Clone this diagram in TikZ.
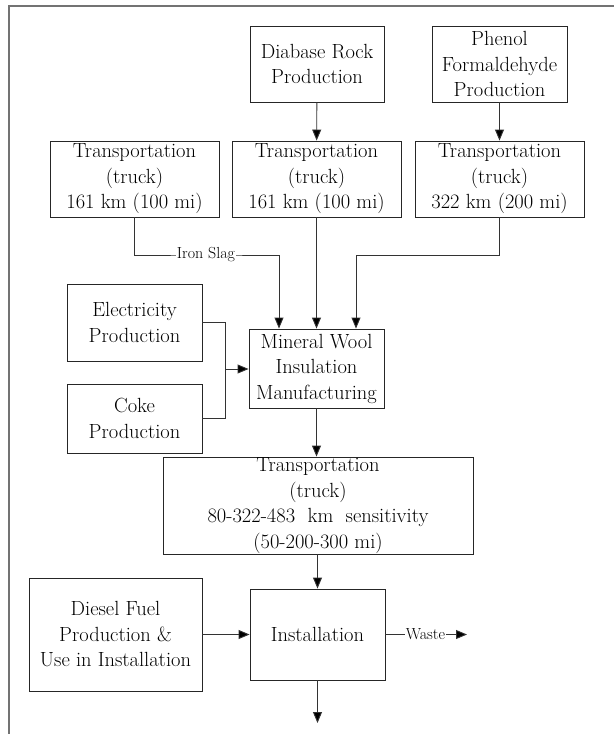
\documentclass[tikz,border=0pt]{standalone}
\usepackage{fontspec}
\usetikzlibrary{arrows.meta}
\begin{document}
\begin{tikzpicture}[x=1pt,y=-1pt,
  proc/.style={draw=black!85,line width=0.9pt,align=center,inner sep=0pt,
    font=\rmfamily\fontsize{20.5}{25.5}\selectfont},
  link/.style={draw=black!80,line width=0.9pt},
  arr/.style={link,-{Triangle[width=9pt,length=11pt,fill=black]}},
  tag/.style={fill=white,inner sep=1pt,font=\rmfamily\fontsize{16}{18}\selectfont}]
  \useasboundingbox (0,0) rectangle (614,734);
  % outer frame (top and left edges)
  \draw[black!55,line width=1.4pt] (9,734) -- (9,6) -- (614,6);

  % upstream production
  \node[proc,minimum width=134pt,minimum height=76pt] (rock) at (317,64) {Diabase Rock\\Production};
  \node[proc,minimum width=135pt,minimum height=76pt] (phenol) at (499.5,64) {Phenol\\Formaldehyde\\Production};

  % transport legs
  \node[proc,minimum width=169pt,minimum height=76pt] (t1) at (134.5,179) {Transportation\\(truck)\\161 km (100 mi)};
  \node[proc,minimum width=169pt,minimum height=76pt] (t2) at (316.5,179) {Transportation\\(truck)\\161 km (100 mi)};
  \node[proc,minimum width=169pt,minimum height=76pt] (t3) at (499.5,179) {Transportation\\(truck)\\322 km (200 mi)};

  % energy inputs
  \node[proc,minimum width=135pt,minimum height=77pt] (elec) at (134.5,322.5) {Electricity\\Production};
  \node[proc,minimum width=135pt,minimum height=69pt] (coke) at (134.5,418.5) {Coke\\Production};

  % manufacturing and distribution
  \node[proc,minimum width=135pt,minimum height=79pt] (mw) at (316.5,368.5) {Mineral Wool\\Insulation\\Manufacturing};
  \node[proc,minimum width=310pt,minimum height=97pt] (t4) at (318,505.5)
    {Transportation\\(truck)\\80-322-483\ \ km\ \ sensitivity\\(50-200-300 mi)};
  \node[proc,minimum width=135pt,minimum height=91pt] (inst) at (317.5,634.5) {Installation};
  \node[proc,minimum width=173pt,minimum height=113pt] (diesel) at (115.5,634.5) {Diesel Fuel\\Production \&\\Use in Installation};

  \coordinate (wasteEnd) at (467,634.5);
  \coordinate (outEnd) at (317.5,723);

  % flows
  \draw[arr] (rock) -- (t2);
  \draw[arr] (phenol) -- (t3);
  \draw[arr] (t1.south) |- (206,255) node[tag] {Iron Slag} -| (mw.north -| 279,0);
  \draw[arr] (t2) -- (mw);
  \draw[arr] (t3.south) |- (356,255) -- (mw.north -| 356,0);
  \draw[link] (elec.east) -| (225,369);
  \draw[link] (coke.east) -| (225,369);
  \draw[arr] (225,369) -- (mw.west |- 0,369);
  \draw[arr] (mw) -- (t4.north -| mw.south);
  \draw[arr] (t4.south -| inst.north) -- (inst.north);
  \draw[arr] (diesel) -- (inst);
  \draw[arr] (inst.east) -- (wasteEnd) node[tag,pos=0.49] {Waste};
  \draw[arr] (inst.south) -- (outEnd);
\end{tikzpicture}
\end{document}
